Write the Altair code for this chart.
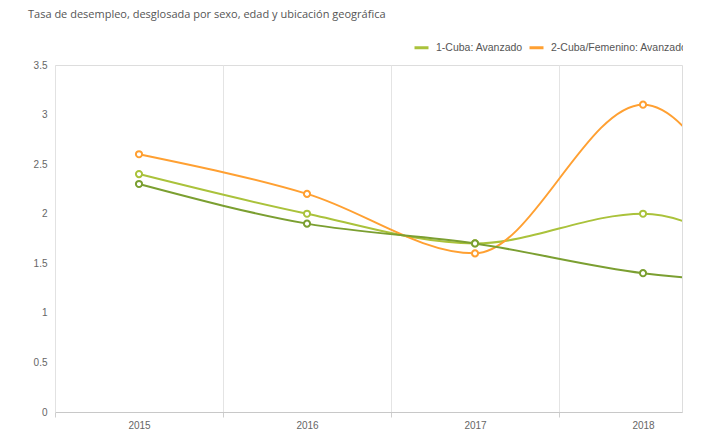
import altair as alt
import pandas as pd

# ---- data ----
years = [2015, 2016, 2017, 2018, 2019]
series = ["1-Cuba: Avanzado", "2-Cuba/Femenino: Avanzado", "3-Cuba/Masculino: Avanzado"]
cuba = [2.4, 2.0, 1.7, 2.0, 1.06]
femenino = [2.6, 2.2, 1.6, 3.1, 0.35]
masculino = [2.3, 1.9, 1.7, 1.4, 1.28]
y_ticks = [0, 0.5, 1, 1.5, 2, 2.5, 3, 3.5]
colors = ["#aac23b", "#ffa032", "#7b9f31"]
title_text = "Tasa de desempleo, desglosada por sexo, edad y ubicación geográfica"

rows = []
for name, vals in zip(series, [cuba, femenino, masculino]):
    for yr, v in zip(years, vals):
        rows.append({"year": yr, "value": v, "series": name})
df = pd.DataFrame(rows)

band_edges = [y - 0.5 for y in years[:-1]]

x_enc = alt.X(
    "year:Q",
    scale=alt.Scale(domain=[years[0] - 0.5, years[-2] + 0.232], nice=False, zero=False),
    axis=alt.Axis(
        values=band_edges,
        labelExpr="format(datum.value + 0.5, 'd')",
        labelOffset=84,
        labelFlush=False,
        labelOverlap=False,
        grid=True,
        gridColor="#e4e4e4",
        gridWidth=1,
        ticks=True,
        tickSize=5,
        tickColor="#cfcfcf",
        domainColor="#c8c8c8",
        labelColor="#666666",
        labelFont="Liberation Sans",
        labelFontSize=10,
        labelPadding=3,
        title=None,
    ),
)
y_enc = alt.Y(
    "value:Q",
    scale=alt.Scale(domain=[0, 3.5], nice=False),
    axis=alt.Axis(
        values=y_ticks,
        format="~g",
        grid=False,
        ticks=False,
        domainColor="#e2e2e2",
        labelColor="#666666",
        labelFont="Liberation Sans",
        labelFontSize=10,
        labelPadding=8,
        title=None,
    ),
)
legend = alt.Legend(
    orient="none",
    legendX=358,
    legendY=-26,
    direction="horizontal",
    columns=3,
    title=None,
    symbolType="stroke",
    symbolStrokeWidth=3,
    symbolSize=196,
    labelFont="Liberation Sans",
    labelFontSize=10.5,
    labelColor="#555555",
    columnPadding=0,
    labelOffset=6,
    padding=0,
)
color_enc = alt.Color("series:N", scale=alt.Scale(domain=series, range=colors), legend=legend)

base = alt.Chart(df)
lines = base.mark_line(interpolate="monotone", strokeWidth=2, clip=True).encode(
    x=x_enc, y=y_enc, color=color_enc, detail="series:N"
)
points = base.mark_point(filled=True, fill="white", strokeWidth=2, size=38, opacity=1, clip=True).encode(
    x=x_enc, y=y_enc, stroke=alt.Stroke("series:N", scale=alt.Scale(domain=series, range=colors), legend=None)
)

chart = (
    alt.layer(lines, points)
    .properties(
        width=627,
        height=347,
        title=alt.TitleParams(
            title_text,
            anchor="start",
            frame="group",
            dx=-27,
            offset=19,
            font="Open Sans",
            fontSize=11,
            fontWeight="normal",
            color="#555555",
        ),
        autosize=alt.AutoSizeParams(type="none"),
        padding={"left": 47, "top": 57, "right": 1, "bottom": 18},
    )
    .configure_view(stroke=None)
    .configure(background="white")
)

chart.save("out.html", embed_options={"renderer": "svg", "actions": False})
